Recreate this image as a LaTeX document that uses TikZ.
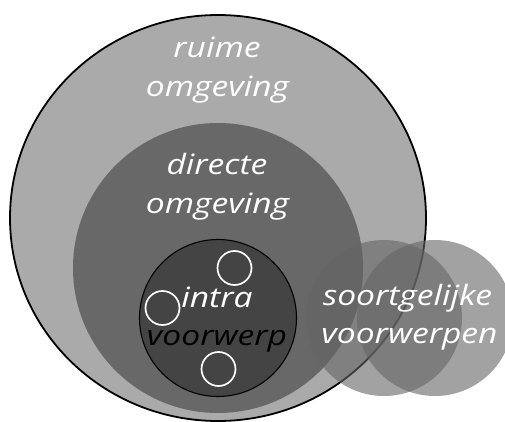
\documentclass[tikz,border=0pt]{standalone}
\usepackage{fontspec}
\setmainfont{Open Sans}
\newfontfamily\lblfont[FakeStretch=1.2]{Open Sans}
\begin{document}
\begin{tikzpicture}[x=1pt,y=-1pt,
  lbl/.style={anchor=base,inner sep=0pt,font=\lblfont\fontsize{28}{32}\selectfont\itshape},
  small/.style={draw=white,line width=1.7pt},
  kin/.style={fill={rgb,255:red,100;green,100;blue,100},fill opacity=0.6}]
\useasboundingbox (0,0) rectangle (505,422);
\clip (0,0) rectangle (505,422);
\definecolor{outerg}{RGB}{170,170,170}
\definecolor{directg}{RGB}{104,104,104}
\definecolor{intrag}{RGB}{68,68,68}
\fill[outerg] (218,218) ellipse [x radius=208, y radius=203];
\draw[line width=1.8pt] (218,218) ellipse [x radius=208, y radius=203];
\fill[directg] (218,268) circle [radius=145];
\draw[fill=intrag,line width=1.1pt] (218,318) circle [radius=78.5];
\draw[small] (234.5,268) circle [radius=17];
\draw[small] (162.5,308) circle [radius=17];
\draw[small] (218.5,369) circle [radius=17];
\fill[kin] (384,318) circle [radius=78];
\fill[kin] (435,318) circle [radius=78];
\node[lbl,white] (r1) at (217,58) {ruime};
\node[lbl,white] (r2) at (217.5,97) {omgeving};
\node[lbl,white] (d1) at (217,175) {directe};
\node[lbl,white] (d2) at (217.5,213) {omgeving};
\node[lbl,white] (i1) at (217,307) {intra};
\node[lbl,black] (i2) at (217,345) {voorwerp};
\node[lbl,white] (s1) at (407.5,305) {soortgelijke};
\node[lbl,white] (s2) at (409.5,343) {voorwerpen};
\end{tikzpicture}
\end{document}
